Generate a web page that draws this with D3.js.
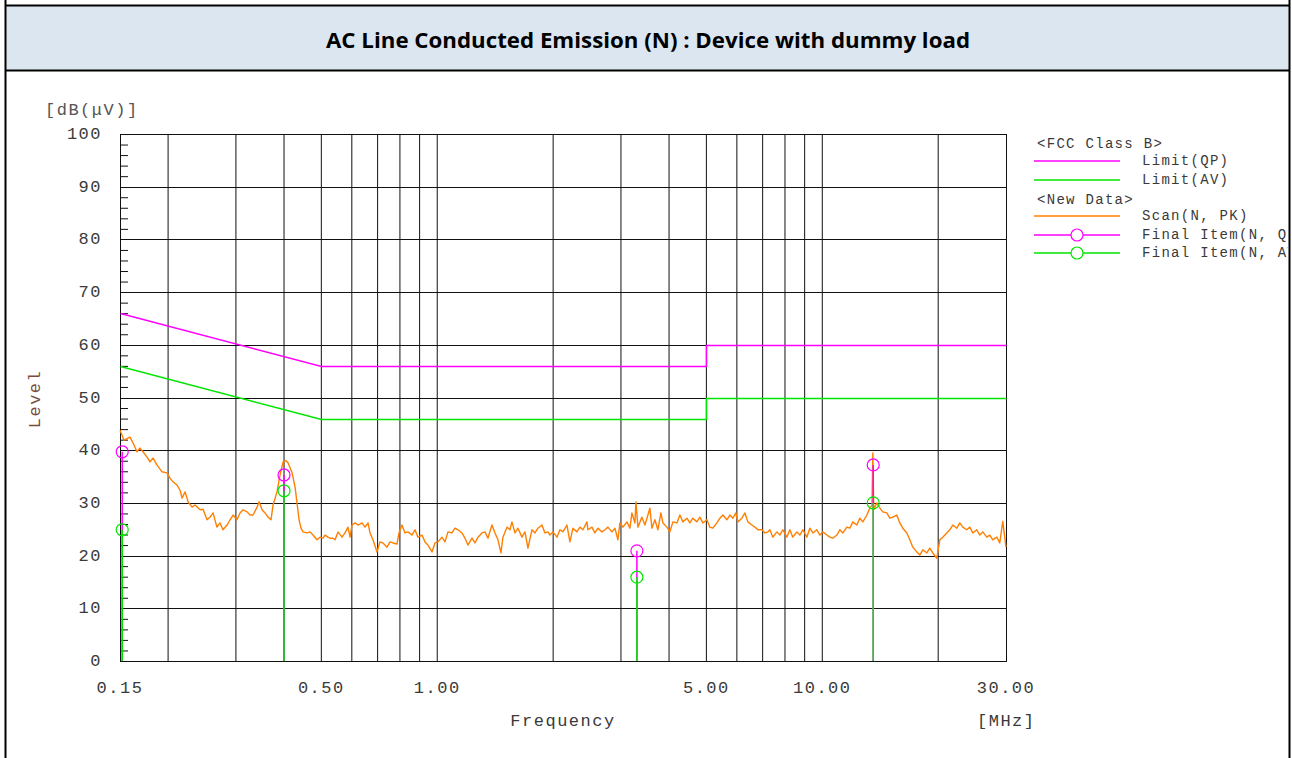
<!DOCTYPE html>
<html>
<head>
<meta charset="utf-8">
<script src="https://cdn.jsdelivr.net/npm/d3@7/dist/d3.min.js"></script>
<style>
  body { margin: 0; background: #fff; }
  svg { display: block; }
  .mono { font-family: "Liberation Mono", "DejaVu Sans Mono", monospace; }
</style>
</head>
<body>
<svg id="chart"></svg>
<script>
const TITLE = 'AC Line Conducted Emission (N) : Device with dummy load';

// axis ticks
const X_TICKS = [0.15, 0.5, 1, 5, 10, 30];
const X_TICK_LABELS = ['0.15', '0.50', '1.00', '5.00', '10.00', '30.00'];
const X_GRID = [0.2, 0.3, 0.4, 0.5, 0.6, 0.7, 0.8, 0.9, 1, 2, 3, 4, 5, 6, 7, 8, 9, 10, 20];
const Y_TICKS = [0, 10, 20, 30, 40, 50, 60, 70, 80, 90, 100];
const Y_MINOR = [2, 4, 6, 8, 12, 14, 16, 18, 22, 24, 26, 28, 32, 34, 36, 38, 42, 44, 46, 48,
  52, 54, 56, 58, 62, 64, 66, 68, 72, 74, 76, 78, 82, 84, 86, 88, 92, 94, 96, 98];

// FCC class B limits [MHz, dBuV]
const LIMIT_QP = [[0.15, 66], [0.5, 56], [5, 56], [5, 60], [30, 60]];
const LIMIT_AV = [[0.15, 56], [0.5, 46], [5, 46], [5, 50], [30, 50]];

// final measurements
const FINAL_FREQ = [0.152, 0.40, 3.30, 13.56];
const FINAL_QP = [39.7, 35.3, 20.9, 37.2];
const FINAL_AV = [24.9, 32.3, 15.9, 30.0];

// peak scan
const SCAN_FREQ = [
  0.150, 0.1518, 0.1536, 0.1573, 0.1592, 0.1621, 0.1660, 0.1690, 0.1721, 0.1763,
  0.1795, 0.1828, 0.1871, 0.1928, 0.1986, 0.2023, 0.2060, 0.2108, 0.2148, 0.2174,
  0.2214, 0.2254, 0.2308, 0.2350, 0.2421, 0.2465, 0.2524, 0.2570, 0.2617, 0.2678,
  0.2728, 0.2777, 0.2845, 0.2897, 0.2950, 0.3019, 0.3075, 0.3131, 0.3207, 0.3265,
  0.3324, 0.3405, 0.3446, 0.3508, 0.3571, 0.3636, 0.3701, 0.3746, 0.3836, 0.3906,
  0.3977, 0.4049, 0.4097, 0.4197, 0.4273, 0.4324, 0.4376, 0.4428, 0.4482, 0.4590,
  0.4673, 0.4758, 0.4873, 0.4961, 0.5051, 0.5112, 0.5204, 0.5267, 0.5362, 0.5427,
  0.5525, 0.5658, 0.5761, 0.5865, 0.5935, 0.6006, 0.6115, 0.6226, 0.6377, 0.6493,
  0.6610, 0.6689, 0.6810, 0.6975, 0.7101, 0.7230, 0.7405, 0.7538, 0.7674, 0.7861,
  0.7955, 0.8099, 0.8246, 0.8395, 0.8598, 0.8754, 0.8912, 0.9127, 0.9293, 0.9461,
  0.9690, 0.9866, 1.0044, 1.0287, 1.0474, 1.0663, 1.0921, 1.1119, 1.1320, 1.1593,
  1.1804, 1.2017, 1.2308, 1.2532, 1.2758, 1.3066, 1.3304, 1.3543, 1.3870, 1.4123,
  1.4378, 1.4637, 1.4813, 1.5173, 1.5447, 1.5632, 1.5917, 1.6204, 1.6595, 1.6897,
  1.7201, 1.7617, 1.7937, 1.8261, 1.8703, 1.9043, 1.9386, 1.9619, 1.9974, 2.0459,
  2.0828, 2.1205, 2.1719, 2.2111, 2.2511, 2.3057, 2.3473, 2.3898, 2.4478, 2.4623,
  2.5218, 2.5676, 2.6140, 2.6771, 2.7258, 2.7750, 2.8421, 2.8938, 2.9460, 2.9814,
  3.0354, 3.1090, 3.1650, 3.2030, 3.2612, 3.2809, 3.3210, 3.4003, 3.4622, 3.5246,
  3.5670, 3.6098, 3.6754, 3.7418, 3.8094, 3.8553, 3.9488, 4.0200, 4.0928, 4.1920,
  4.2676, 4.3448, 4.4503, 4.5305, 4.6125, 4.7244, 4.8096, 4.8967, 5.0155, 5.1059,
  5.1983, 5.3244, 5.4204, 5.5185, 5.6524, 5.7543, 5.8585, 5.9649, 6.0363, 6.1821,
  6.2944, 6.4083, 6.5629, 6.6823, 6.8032, 6.9672, 7.0938, 7.2222, 7.3087, 7.4410,
  7.6215, 7.7589, 7.8994, 8.0910, 8.2369, 8.3860, 8.5894, 8.7443, 8.9025, 9.1186,
  9.2830, 9.4510, 9.6803, 9.8548, 10.033, 10.277, 10.462, 10.651, 10.910, 11.106,
  11.307, 11.581, 11.790, 12.003, 12.295, 12.517, 12.744, 13.053, 13.288, 13.46,
  13.53, 13.60, 13.857, 14.106, 14.361, 14.710, 14.975, 15.246, 15.616, 15.898,
  16.186, 16.578, 16.877, 17.182, 17.600, 17.917, 18.241, 18.684, 19.021, 19.365,
  19.835, 20.192, 20.557, 21.056, 21.436, 21.823, 22.354, 22.757, 23.169, 23.731,
  24.159, 24.596, 25.193, 25.647, 26.111, 26.745, 27.227, 27.719, 28.392, 28.904,
  29.427, 30.0
];
const SCAN_LEVEL = [
  43.8, 42.9, 41.9, 42.3, 42.5, 41.4, 39.7, 40.4, 39.7, 38.7,
  37.8, 38.5, 37.2, 35.9, 35.7, 34.7, 34.0, 33.4, 32.4, 30.9,
  32.1, 30.2, 29.2, 29.6, 28.7, 28.8, 26.8, 27.3, 28.1, 25.4,
  26.2, 24.9, 25.8, 26.8, 27.7, 26.8, 28.1, 28.7, 28.3, 27.7,
  27.7, 29.2, 30.2, 28.7, 28.1, 27.3, 26.8, 29.6, 32.1, 35.3,
  37.8, 38.0, 37.6, 35.7, 33.0, 30.0, 26.8, 25.2, 24.5, 24.3,
  24.5, 23.9, 23.0, 23.5, 23.3, 23.9, 23.5, 23.3, 23.3, 23.0,
  24.5, 23.5, 24.3, 25.4, 23.5, 25.8, 26.2, 25.8, 26.2, 25.4,
  26.2, 24.3, 23.0, 20.7, 22.6, 22.4, 21.6, 22.6, 22.4, 22.2,
  24.3, 25.8, 24.3, 24.5, 23.9, 24.9, 23.5, 23.9, 22.6, 22.0,
  20.7, 22.4, 22.6, 23.5, 22.6, 24.5, 24.3, 25.2, 24.9, 24.3,
  23.3, 22.0, 23.3, 22.4, 23.5, 24.3, 24.5, 23.3, 25.8, 24.3,
  23.0, 20.5, 23.5, 25.4, 24.9, 26.4, 24.3, 25.2, 23.5, 24.5,
  21.4, 24.9, 24.3, 25.2, 25.8, 24.3, 24.5, 23.9, 24.5, 23.5,
  24.9, 24.5, 25.8, 22.6, 25.2, 24.5, 25.4, 24.9, 26.4, 24.9,
  25.4, 24.3, 25.2, 24.5, 24.9, 25.4, 24.5, 25.2, 23.0, 26.2,
  25.4, 26.4, 25.2, 28.1, 26.2, 30.2, 25.4, 27.3, 25.8, 27.7,
  29.0, 25.2, 26.8, 24.9, 28.1, 26.2, 25.4, 24.5, 26.4, 26.2,
  27.7, 26.4, 27.1, 26.2, 27.1, 26.4, 27.3, 26.2, 26.8, 25.4,
  25.2, 26.2, 27.1, 27.7, 26.8, 27.7, 27.1, 28.1, 26.4, 27.1,
  28.1, 26.4, 25.8, 25.4, 24.9, 24.9, 24.3, 24.5, 24.9, 23.5,
  24.5, 23.9, 24.9, 23.5, 24.9, 23.5, 24.5, 23.9, 24.9, 23.5,
  25.2, 24.3, 24.9, 23.9, 24.5, 23.9, 23.5, 23.3, 23.9, 24.9,
  24.3, 25.4, 25.2, 26.4, 25.8, 27.1, 26.4, 27.7, 29.0, 29.5,
  39.5, 28.7, 30.0, 29.0, 28.3, 28.1, 27.1, 27.3, 27.7, 26.2,
  25.2, 24.3, 23.0, 21.6, 20.7, 20.1, 21.1, 20.5, 21.4, 20.5,
  19.5, 23.0, 23.5, 24.3, 24.9, 25.8, 25.2, 26.2, 25.4, 24.9,
  25.4, 24.3, 24.9, 23.9, 24.5, 23.5, 23.9, 23.0, 23.5, 22.4,
  26.5, 21.6
];

const LEGEND_ROWS = [
  { label: '<FCC Class B>', kind: 'head' },
  { label: 'Limit(QP)', kind: 'qp' },
  { label: 'Limit(AV)', kind: 'av' },
  { label: '<New Data>', kind: 'head' },
  { label: 'Scan(N, PK)', kind: 'scan' },
  { label: 'Final Item(N, QP)', kind: 'fqp' },
  { label: 'Final Item(N, AV)', kind: 'fav' }
];
const LEGEND_Y = [143, 161, 180, 199, 216, 235, 253];

if (SCAN_FREQ.length !== SCAN_LEVEL.length) throw new Error('scan length mismatch ' + SCAN_FREQ.length + ' ' + SCAN_LEVEL.length);

const SVG_WIDTH = 1292;
const SVG_HEIGHT = 758;
const PLOT = { left: 120, right: 1006, top: 134, bottom: 661 };

const C_QP = '#ff00ff';
const C_AV = '#00e600';
const C_SCAN = '#ff7f00';
const C_TEXT = '#3a3a3a';

const x = d3.scaleLog().domain([0.15, 30]).range([PLOT.left, PLOT.right]);
const y = d3.scaleLinear().domain([0, 100]).range([PLOT.bottom, PLOT.top]);
const snap = v => Math.round(v) + 0.5;

const svg = d3.select('#chart')
  .attr('width', SVG_WIDTH)
  .attr('height', SVG_HEIGHT);

// page frame + title band
svg.append('rect')
  .attr('x', 6).attr('y', 6).attr('width', 1283).attr('height', 64)
  .attr('fill', '#dce6f1');
svg.append('line').attr('x1', 5).attr('x2', 1290).attr('y1', 5.5).attr('y2', 5.5)
  .attr('stroke', '#000').attr('stroke-width', 2);
svg.append('line').attr('x1', 5).attr('x2', 1290).attr('y1', 70.5).attr('y2', 70.5)
  .attr('stroke', '#000').attr('stroke-width', 2);
[5.5, 1289.5].forEach(px => {
  svg.append('line').attr('x1', px).attr('x2', px).attr('y1', 0).attr('y2', SVG_HEIGHT)
    .attr('stroke', '#000').attr('stroke-width', 2);
});
svg.append('text')
  .attr('x', 648).attr('y', 48)
  .attr('text-anchor', 'middle')
  .style('font-family', '"Open Sans", "Liberation Sans", sans-serif')
  .style('font-weight', 700)
  .style('font-size', '21px')
  .attr('textLength', 644)
  .attr('lengthAdjust', 'spacingAndGlyphs')
  .text(TITLE);

const plot = svg.append('g');

// grid
plot.selectAll('.vgrid')
  .data(X_GRID)
  .enter()
  .append('line')
    .attr('class', 'vgrid')
    .attr('x1', d => x(d))
    .attr('x2', d => x(d))
    .attr('y1', PLOT.top)
    .attr('y2', PLOT.bottom)
    .attr('stroke', '#111');

plot.selectAll('.hgrid')
  .data(Y_TICKS)
  .enter()
  .append('line')
    .attr('class', 'hgrid')
    .attr('x1', PLOT.left)
    .attr('x2', PLOT.right)
    .attr('y1', d => snap(y(d)))
    .attr('y2', d => snap(y(d)))
    .attr('stroke', '#111');

plot.append('rect')
  .attr('x', PLOT.left + 0.5).attr('y', PLOT.top + 0.5)
  .attr('width', PLOT.right - PLOT.left).attr('height', PLOT.bottom - PLOT.top)
  .attr('fill', 'none').attr('stroke', '#111');

// minor ticks on left axis
plot.append('g')
  .attr('transform', 'translate(' + PLOT.left + ',0)')
  .call(d3.axisRight(y).tickValues(Y_MINOR).tickSize(8).tickFormat(''))
  .call(g => g.select('.domain').remove())
  .call(g => g.selectAll('line').attr('stroke', '#111'));

// y tick labels
plot.selectAll('.ylab')
  .data(Y_TICKS)
  .enter()
  .append('text')
    .attr('class', 'mono')
    .attr('x', 102)
    .attr('y', d => y(d) + 5)
    .attr('text-anchor', 'end')
    .style('font-size', '17px')
    .style('letter-spacing', '1.5px')
    .attr('fill', C_TEXT)
    .text(d => d);

// x tick labels
plot.selectAll('.xlab')
  .data(X_TICKS)
  .enter()
  .append('text')
    .attr('class', 'mono')
    .attr('x', d => x(d))
    .attr('y', 693)
    .attr('text-anchor', 'middle')
    .style('font-size', '17px')
    .style('letter-spacing', '1.5px')
    .attr('fill', C_TEXT)
    .text((d, i) => X_TICK_LABELS[i]);

// axis titles
svg.append('text').attr('class', 'mono')
  .attr('x', 45).attr('y', 115)
  .style('font-size', '17px').style('letter-spacing', '1.5px')
  .attr('fill', '#555')
  .text('[dB(\u03BCV)]');
svg.append('text').attr('class', 'mono')
  .attr('transform', 'translate(40, 399) rotate(-90)')
  .attr('text-anchor', 'middle')
  .style('font-size', '17px').style('letter-spacing', '1.5px')
  .attr('fill', '#7a4a3a')
  .text('Level');
svg.append('text').attr('class', 'mono')
  .attr('x', 563).attr('y', 726)
  .attr('text-anchor', 'middle')
  .style('font-size', '17px').style('letter-spacing', '1.5px')
  .attr('fill', C_TEXT)
  .text('Frequency');
svg.append('text').attr('class', 'mono')
  .attr('x', 977).attr('y', 726)
  .style('font-size', '17px').style('letter-spacing', '1.5px')
  .attr('fill', C_TEXT)
  .text('[MHz]');

// limits, snapped onto the pixel grid so they sit over the gridlines
const limitLine = d3.line().x(d => snap(x(d[0]))).y(d => snap(y(d[1])));
plot.append('path').attr('d', limitLine(LIMIT_QP))
  .attr('fill', 'none').attr('stroke', C_QP).attr('stroke-width', 1.5);
plot.append('path').attr('d', limitLine(LIMIT_AV))
  .attr('fill', 'none').attr('stroke', C_AV).attr('stroke-width', 1.5);

// scan trace
const line = d3.line().x(d => x(d[0])).y(d => y(d[1]));
const scan = SCAN_FREQ.map((f, i) => [f, SCAN_LEVEL[i]]);
plot.append('path').attr('d', line(scan))
  .attr('fill', 'none').attr('stroke', C_SCAN).attr('stroke-width', 1.4)
  .attr('stroke-linejoin', 'round');

// final items: stems from 0 and markers
const finals = FINAL_FREQ.map((f, i) => ({ f: f, qp: FINAL_QP[i], av: FINAL_AV[i] }));
plot.selectAll('.stem-qp')
  .data(finals).enter().append('line')
    .attr('x1', d => x(d.f)).attr('x2', d => x(d.f))
    .attr('y1', y(0)).attr('y2', d => y(d.qp))
    .attr('stroke', C_QP).attr('stroke-width', 1.5);
plot.selectAll('.stem-av')
  .data(finals).enter().append('line')
    .attr('x1', d => x(d.f)).attr('x2', d => x(d.f))
    .attr('y1', y(0)).attr('y2', d => y(d.av))
    .attr('stroke', C_AV).attr('stroke-width', 1.5);
plot.selectAll('.mk-qp')
  .data(finals).enter().append('circle')
    .attr('cx', d => x(d.f)).attr('cy', d => y(d.qp)).attr('r', 6)
    .attr('fill', 'none').attr('stroke', C_QP).attr('stroke-width', 1.2);
plot.selectAll('.mk-av')
  .data(finals).enter().append('circle')
    .attr('cx', d => x(d.f)).attr('cy', d => y(d.av)).attr('r', 6)
    .attr('fill', 'none').attr('stroke', C_AV).attr('stroke-width', 1.2);

// legend
svg.append('clipPath').attr('id', 'legend-clip')
  .append('rect').attr('x', 1020).attr('y', 120).attr('width', 268).attr('height', 160);
const legend = svg.append('g').attr('clip-path', 'url(#legend-clip)');
const legendColor = { qp: C_QP, av: C_AV, scan: C_SCAN, fqp: C_QP, fav: C_AV };
LEGEND_ROWS.forEach((row, i) => {
  const ly = LEGEND_Y[i];
  if (row.kind === 'head') {
    legend.append('text').attr('class', 'mono')
      .attr('x', 1037).attr('y', ly + 5)
      .style('font-size', '14px').style('letter-spacing', '1.3px')
      .attr('fill', C_TEXT)
      .text(row.label);
    return;
  }
  legend.append('line')
    .attr('x1', 1034).attr('x2', 1120).attr('y1', ly).attr('y2', ly)
    .attr('stroke', legendColor[row.kind]).attr('stroke-width', 1.5);
  if (row.kind === 'fqp' || row.kind === 'fav') {
    legend.append('circle').attr('cx', 1077).attr('cy', ly).attr('r', 6)
      .attr('fill', '#fff').attr('stroke', legendColor[row.kind]).attr('stroke-width', 1.2);
  }
  legend.append('text').attr('class', 'mono')
    .attr('x', 1142).attr('y', ly + 4)
    .style('font-size', '14px').style('letter-spacing', '1.3px')
    .attr('fill', C_TEXT)
    .text(row.label);
});
</script>
</body>
</html>
